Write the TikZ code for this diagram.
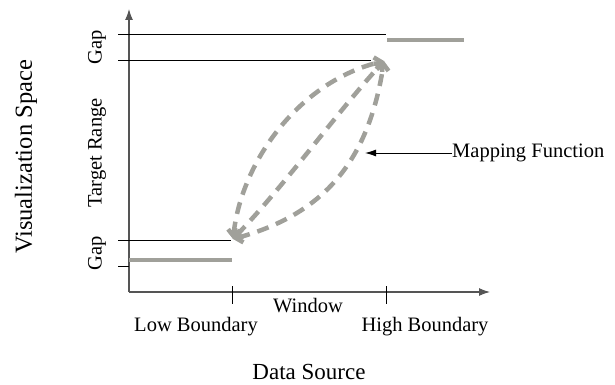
\documentclass[tikz,border=0pt]{standalone}
\usepackage{fontspec}
\setmainfont{Liberation Serif}
\usetikzlibrary{arrows.meta}
\definecolor{mapgray}{RGB}{160,160,154}
\definecolor{axisgray}{RGB}{85,85,85}
\tikzset{
  axisline/.style={draw=axisgray,line width=1.1pt,-{Latex[length=11pt,width=8pt]}},
  thinline/.style={draw=black,line width=0.9pt},
  tickline/.style={draw=black,line width=1pt},
  segment/.style={draw=mapgray,line width=4pt},
  mapcurve/.style={draw=mapgray,line width=4.5pt,dash pattern=on 12pt off 8pt,
    {Straight Barb[length=6pt,width=12pt]}-{Straight Barb[length=6pt,width=12pt]}},
  label/.style={font=\fontsize{20.5}{24}\selectfont,inner sep=0pt},
  title/.style={font=\fontsize{23}{27}\selectfont,inner sep=0pt},
  pointer/.style={draw=black,line width=0.9pt,-{Latex[length=11pt,width=7pt]}}
}
\begin{document}
\begin{tikzpicture}[x=1pt,y=-1pt]
\useasboundingbox (0,0) rectangle (615,385);

% axes
\coordinate (O) at (129,292);
\coordinate (ytip) at (129,9);
\coordinate (xtip) at (490,292);
\draw[axisline] (O) -- (ytip);
\draw[axisline] (O) -- (xtip);

% range limits on the vertical axis
\coordinate (gapA0) at (118,34.5);  \coordinate (gapA1) at (386,34.5);
\coordinate (gapB0) at (118,60);    \coordinate (gapB1) at (371,60);
\coordinate (gapC0) at (118,240);   \coordinate (gapC1) at (231,240);
\coordinate (gapD0) at (118,266);   \coordinate (gapD1) at (129,266);
\draw[thinline] (gapA0) -- (gapA1);
\draw[thinline] (gapB0) -- (gapB1);
\draw[thinline] (gapC0) -- (gapC1);
\draw[thinline] (gapD0) -- (gapD1);

% window boundaries on the horizontal axis
\coordinate (lowT) at (232,286);  \coordinate (lowB) at (232,304);
\coordinate (highT) at (386,286); \coordinate (highB) at (386,304);
\draw[tickline] (lowT) -- (lowB);
\draw[tickline] (highT) -- (highB);

% clamped values outside the window
\coordinate (segL0) at (129,260); \coordinate (segL1) at (232,260);
\coordinate (segR0) at (387,40);  \coordinate (segR1) at (464,40);
\draw[segment] (segL0) -- (segL1);
\draw[segment] (segR0) -- (segR1);

% candidate mapping functions
\coordinate (mlo) at (233,239);
\coordinate (mhi) at (384,61);
\draw[mapcurve] (mlo) .. controls (242,160) and (300,82) .. (mhi);
\draw[mapcurve] (mlo) .. controls (285,185) and (335,115) .. (mhi);
\draw[mapcurve] (mlo) .. controls (320,215) and (368,165) .. (mhi);

% labels
\node[label,anchor=west] (mapf) at (452,153) {Mapping Function};
\coordinate (maptip) at (365,153);
\draw[pointer] (mapf.west) -- (maptip);

\node[label] (win) at (308,306) {Window};
\node[label] (low) at (196,327) {Low Boundary};
\node[label] (high) at (425,327) {High Boundary};
\node[title] (ds) at (309,372) {Data Source};

\node[label,rotate=90] (gtop) at (97,47) {Gap};
\node[label,rotate=90] (tr) at (97,153) {Target Range};
\node[label,rotate=90] (gbot) at (97,253) {Gap};
\node[title,font=\fontsize{24.5}{29}\selectfont,rotate=90] (vs) at (26,157) {Visualization Space};
\end{tikzpicture}
\end{document}
